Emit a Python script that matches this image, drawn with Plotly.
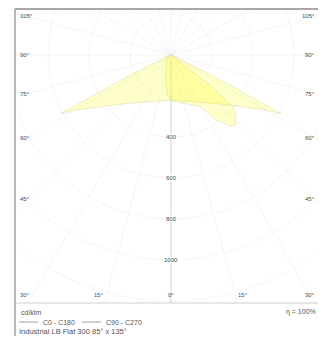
import numpy as np
import plotly.graph_objects as go

# ---------------- data (cd/klm) ----------------
gamma_c0 = [-90, -70, -66, -64, -62, -60, -55, -50, -45, -40, -30, -20, -10, 0,
            10, 20, 30, 40, 45, 50, 55, 60, 62, 64, 66, 70, 90]
cd_c0 = [0, 0, 30, 200, 610, 537, 442, 380, 338, 306, 265, 239, 225, 220,
         225, 239, 265, 306, 338, 380, 442, 537, 610, 200, 30, 0, 0]

gamma_c90 = [-90, -60, -45, -30, -20, -10, -5, 0, 10, 20, 30, 35, 40, 42,
             45, 48, 50, 52, 54, 56, 90]
cd_c90 = [0, 10, 35, 50, 70, 140, 200, 220, 235, 255, 290, 390, 450, 465,
          450, 420, 400, 250, 50, 0, 0]

ring_values = [200, 400, 600, 800, 1000, 1200, 1400]
ring_labels = [400, 600, 800, 1000]
side_angles = [105, 90, 75, 60, 45]
bottom_angles = [-30, -15, 0, 15, 30]
series_names = ["C0 - C180", "C90 - C270"]
unit_text = "cd/klm"
eta_text = "η = 100%"
title_text = "Industrial LB Flat 300 85° x 135°"

# ---------------- geometry (page has an 8px body margin) ----------------
OFF = 8
W, H = 310, 328
ML, MR, MT, MB = 7, 0, 1, 33
pw = W - ML - MR
ph = H - MT - MB
K = 0.205                      # px per cd
CX, CY = 171 - OFF, 55 - OFF   # pole position in figure pixels
X0, X1 = (ML - CX) / K, (W - MR - CX) / K
Y0, Y1 = -(H - MB - CY) / K, (CY - MT) / K
cd_per_px = 1 / K


def pol(g, r):
    g = np.radians(np.asarray(g, float))
    r = np.asarray(r, float)
    return r * np.sin(g), -r * np.cos(g)


def px(p):  # page pixel x -> paper
    return (p - OFF - ML) / pw


def py(p):  # page pixel y -> paper
    return (H - MB - (p - OFF)) / ph


fig = go.Figure()

grid_col = "#f1f1f1"
t = np.linspace(0, 360, 361)
for rv in ring_values:
    x, y = pol(t, np.full_like(t, rv))
    fig.add_trace(go.Scatter(x=x, y=y, mode="lines", hoverinfo="skip",
                             line=dict(color=grid_col, width=0.7), showlegend=False))
for a in range(0, 360, 15):
    x, y = pol([a, a], [0, 2500])
    col = "#c8c8c8" if a == 0 else grid_col
    fig.add_trace(go.Scatter(x=x, y=y, mode="lines", hoverinfo="skip",
                             line=dict(color=col, width=0.8), showlegend=False))

for g, c, nm in [(gamma_c0, cd_c0, series_names[0]), (gamma_c90, cd_c90, series_names[1])]:
    x, y = pol(g, c)
    fig.add_trace(go.Scatter(x=x, y=y, mode="lines", fill="toself",
                             fillcolor="rgba(255,255,20,0.22)",
                             line=dict(color="rgba(200,200,130,0.5)", width=0.7),
                             name=nm, showlegend=False, hoverinfo="skip"))

ann = []
font_s = dict(family="Liberation Sans, Arial", size=6, color="#4a4a4a")
for v in ring_labels:
    ann.append(dict(x=0, y=-v, xref="x", yref="y", text=str(v), showarrow=False,
                    font=font_s, bgcolor="white", borderpad=0))

dx_lab = 144 * cd_per_px
for a in side_angles:
    yv = -dx_lab / np.tan(np.radians(a)) if a != 90 else 0.0
    ann.append(dict(x=X0 + 3 * cd_per_px, y=yv, xref="x", yref="y", text=f"{a}°",
                    showarrow=False, xanchor="left", font=font_s))
    ann.append(dict(x=X1 - 1 * cd_per_px, y=yv, xref="x", yref="y", text=f"{a}°",
                    showarrow=False, xanchor="right", font=font_s))

dy_lab = 268 * cd_per_px
y_bot = Y0 + 8 * cd_per_px
for a in bottom_angles:
    xv = dy_lab * np.tan(np.radians(a))
    if a < 0:
        ann.append(dict(x=max(xv, X0 + 3 * cd_per_px), y=y_bot, xref="x", yref="y",
                        text=f"{abs(a)}°", showarrow=False, font=font_s,
                        xanchor="left" if xv < X0 + 10 * cd_per_px else "center"))
    else:
        ann.append(dict(x=min(xv, X1 - 1 * cd_per_px), y=y_bot, xref="x", yref="y",
                        text=f"{abs(a)}°", showarrow=False, font=font_s,
                        xanchor="right" if xv > X1 - 8 * cd_per_px else "center"))

ft = dict(family="Liberation Sans, Arial", size=7, color="#555")
ann.append(dict(x=px(19), y=py(312), xref="paper", yref="paper", text=unit_text,
                showarrow=False, xanchor="left", yanchor="middle", font=ft))
ann.append(dict(x=1, y=py(312), xref="paper", yref="paper", text=eta_text,
                showarrow=False, xanchor="right", yanchor="middle", font=ft))
leg_x = [19, 82]
for i, nm in enumerate(series_names):
    ann.append(dict(x=px(leg_x[i] + 22), y=py(322), xref="paper", yref="paper", text=nm,
                    showarrow=False, xanchor="left", yanchor="middle", font=ft))
ann.append(dict(x=px(17), y=py(331), xref="paper", yref="paper", text=title_text,
                showarrow=False, xanchor="left", yanchor="middle",
                font=dict(family="Liberation Sans, Arial", size=7.5, color="#555")))

shapes = [
    dict(type="line", xref="paper", yref="paper", x0=0, x1=1.02, y0=1, y1=1,
         line=dict(color="#a8a8a8", width=2)),
    dict(type="line", xref="paper", yref="paper", x0=0, x1=0, y0=1, y1=py(H + OFF),
         line=dict(color="#a0a0a0", width=1.5)),
    dict(type="line", xref="paper", yref="paper", x0=0, x1=1.02, y0=0, y1=0,
         line=dict(color="#cfcfcf", width=1)),
]
for i in range(len(series_names)):
    shapes.append(dict(type="line", xref="paper", yref="paper",
                       x0=px(leg_x[i]), x1=px(leg_x[i] + 19), y0=py(322), y1=py(322),
                       line=dict(color="#888", width=0.8)))

fig.update_layout(
    width=W, height=H, autosize=False,
    margin=dict(l=ML, r=MR, t=MT, b=MB, pad=0),
    paper_bgcolor="white", plot_bgcolor="white",
    xaxis=dict(range=[X0, X1], visible=False, fixedrange=True),
    yaxis=dict(range=[Y0, Y1], visible=False, fixedrange=True),
    annotations=ann, shapes=shapes, showlegend=False,
)
fig.write_html("out.html")
